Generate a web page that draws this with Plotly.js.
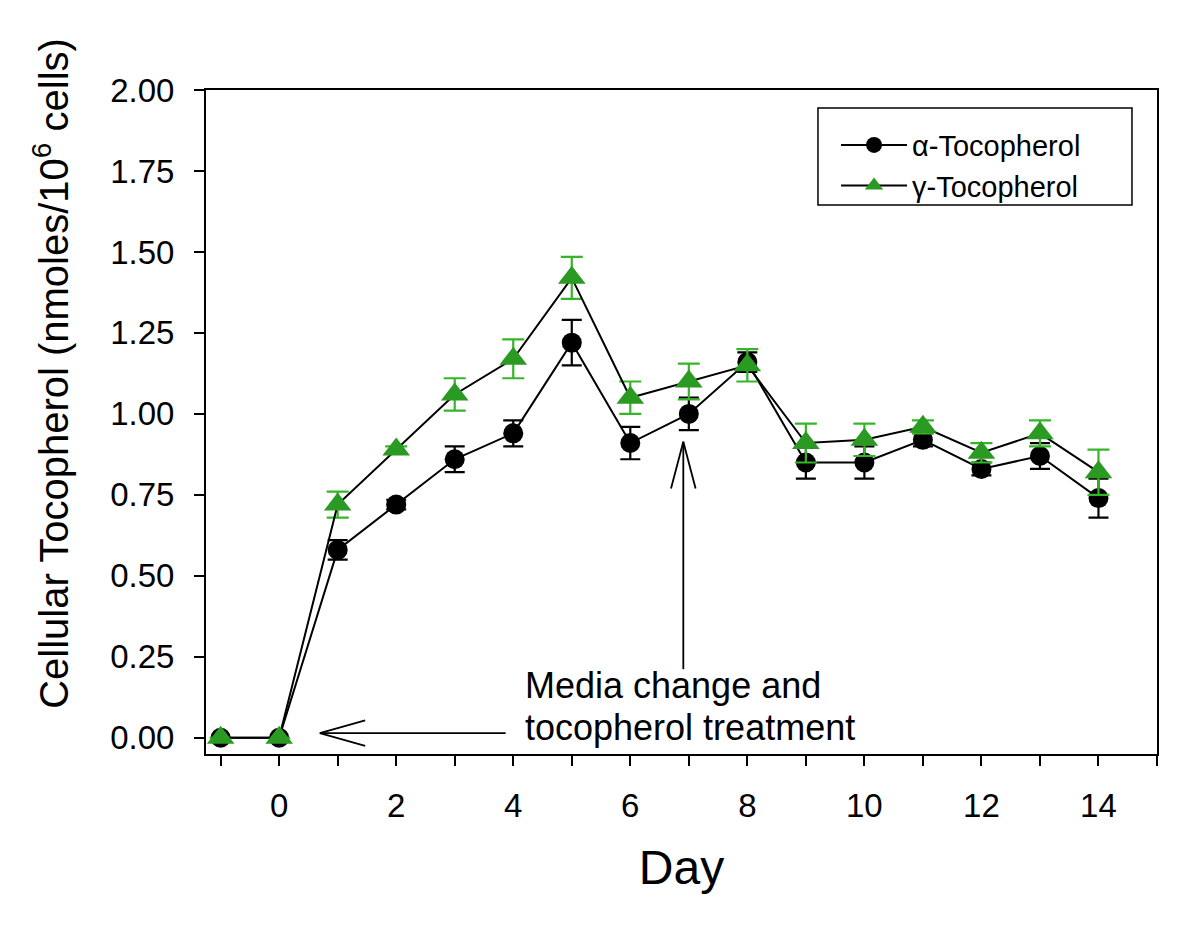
<!DOCTYPE html>
<html>
<head>
<meta charset="utf-8">
<script src="https://cdn.plot.ly/plotly-3.0.1.min.js"></script>
<style>html,body{margin:0;padding:0;background:#fff;}#chart{width:1200px;height:933px;}</style>
</head>
<body>
<div id="chart"></div>
<script>
// Data
var days = [-1, 0, 1, 2, 3, 4, 5, 6, 7, 8, 9, 10, 11, 12, 13, 14];
var alphaToco = [0, 0, 0.58, 0.72, 0.86, 0.94, 1.22, 0.91, 1.00, 1.16, 0.85, 0.85, 0.92, 0.83, 0.87, 0.74];
var alphaErr  = [0, 0, 0.03, 0.015, 0.04, 0.04, 0.07, 0.05, 0.05, 0.03, 0.05, 0.05, 0.02, 0.02, 0.04, 0.06];
var gammaToco = [0, 0, 0.72, 0.89, 1.06, 1.17, 1.42, 1.05, 1.10, 1.15, 0.91, 0.92, 0.96, 0.88, 0.94, 0.82];
var gammaErr  = [0, 0, 0.04, 0.01, 0.05, 0.06, 0.065, 0.05, 0.055, 0.05, 0.06, 0.05, 0.02, 0.03, 0.04, 0.07];
var seriesNames = ['\u03b1-Tocopherol', '\u03b3-Tocopherol'];
var xTickVals = [-1, 0, 1, 2, 3, 4, 5, 6, 7, 8, 9, 10, 11, 12, 13, 14, 15];
var xTickText = ['', '0', '', '2', '', '4', '', '6', '', '8', '', '10', '', '12', '', '14', ''];
var yTickVals = [0, 0.25, 0.5, 0.75, 1.0, 1.25, 1.5, 1.75, 2.0];
var annotationLines = ['Media change and', 'tocopherol treatment'];

var FONT = 'Liberation Sans, Arial, sans-serif';
var GREEN = '#2b9a22';
var GREEN_ERR = '#36b528';

var traces = [
  {
    x: days, y: alphaToco, name: seriesNames[0], type: 'scatter', mode: 'lines+markers',
    line: {color: '#000', width: 2},
    marker: {symbol: 'circle', size: 20, color: '#000'},
    error_y: {type: 'data', array: alphaErr, visible: true, color: '#000', thickness: 2.2, width: 10}
  },
  {
    x: days, y: gammaToco, name: seriesNames[1], type: 'scatter', mode: 'lines+markers',
    line: {color: '#000', width: 2},
    marker: {symbol: 'triangle-up', size: 24, color: GREEN},
    error_y: {type: 'data', array: gammaErr, visible: true, color: GREEN_ERR, thickness: 2.2, width: 11}
  }
];

var layout = {
  width: 1200, height: 933,
  margin: {l: 206, r: 43, t: 90, b: 179},
  paper_bgcolor: '#fff', plot_bgcolor: '#fff',
  font: {family: FONT, color: '#000'},
  showlegend: true,
  legend: {
    x: 0.6625, y: 0.9555, xanchor: 'left', yanchor: 'top',
    bgcolor: 'rgba(0,0,0,0)', borderwidth: 0,
    font: {family: FONT, size: 29, color: '#000'},
    itemwidth: 66
  },
  xaxis: {
    range: [-1.25, 15],
    tickmode: 'array', tickvals: xTickVals, ticktext: xTickText,
    ticks: 'outside', ticklen: 10, tickwidth: 2, tickcolor: '#000',
    showline: true, linewidth: 2, linecolor: '#000', mirror: true,
    showgrid: false, zeroline: false,
    tickfont: {family: FONT, size: 33, color: '#000'},
    ticklabelstandoff: 11,
    title: {text: 'Day', font: {family: FONT, size: 48, color: '#000'}, standoff: 28}
  },
  yaxis: {
    range: [-0.05, 2.0],
    tickmode: 'array', tickvals: yTickVals, tickformat: '.2f',
    ticks: 'outside', ticklen: 10, tickwidth: 2, tickcolor: '#000',
    showline: true, linewidth: 2, linecolor: '#000', mirror: true,
    showgrid: false, zeroline: false,
    tickfont: {family: FONT, size: 33, color: '#000'},
    ticklabelstandoff: 13
  },
  annotations: [
    {
      xref: 'paper', yref: 'paper', x: -0.163, y: 0.574, xanchor: 'center', yanchor: 'middle',
      textangle: -90, showarrow: false,
      text: 'Cellular Tocopherol (nmoles/10<sup>6</sup> cells)',
      font: {family: FONT, size: 40, color: '#000'}
    },
    {
      xref: 'x', yref: 'y', x: 4.17, y: 0.16, xanchor: 'left', yanchor: 'middle',
      showarrow: false, text: annotationLines[0],
      font: {family: FONT, size: 36, color: '#000'}
    },
    {
      xref: 'x', yref: 'y', x: 4.17, y: 0.033, xanchor: 'left', yanchor: 'middle',
      showarrow: false, text: annotationLines[1],
      font: {family: FONT, size: 36, color: '#000'}
    }
  ],
  shapes: [
    // legend frame
    {type: 'rect', xref: 'paper', yref: 'paper', x0: 0.6435, x1: 0.9737, y0: 0.8268, y1: 0.9729,
     line: {color: '#000', width: 1.5}, fillcolor: 'rgba(0,0,0,0)'},
    // horizontal arrow pointing to day 0
    {type: 'line', xref: 'x', yref: 'y', x0: 3.87, y0: 0.0145, x1: 0.695, y1: 0.0145, line: {color: '#000', width: 1.8}},
    {type: 'line', xref: 'x', yref: 'y', x0: 0.695, y0: 0.0145, x1: 1.47, y1: 0.054, line: {color: '#000', width: 1.8}},
    {type: 'line', xref: 'x', yref: 'y', x0: 0.695, y0: 0.0145, x1: 1.47, y1: -0.025, line: {color: '#000', width: 1.8}},
    // vertical arrow pointing up at day 7
    {type: 'line', xref: 'x', yref: 'y', x0: 6.906, y0: 0.212, x1: 6.906, y1: 0.914, line: {color: '#000', width: 1.8}},
    {type: 'line', xref: 'x', yref: 'y', x0: 6.906, y0: 0.914, x1: 6.696, y1: 0.770, line: {color: '#000', width: 1.8}},
    {type: 'line', xref: 'x', yref: 'y', x0: 6.906, y0: 0.914, x1: 7.116, y1: 0.770, line: {color: '#000', width: 1.8}}
  ]
};

Plotly.newPlot('chart', traces, layout, {displayModeBar: false, staticPlot: true});
</script>
</body>
</html>
